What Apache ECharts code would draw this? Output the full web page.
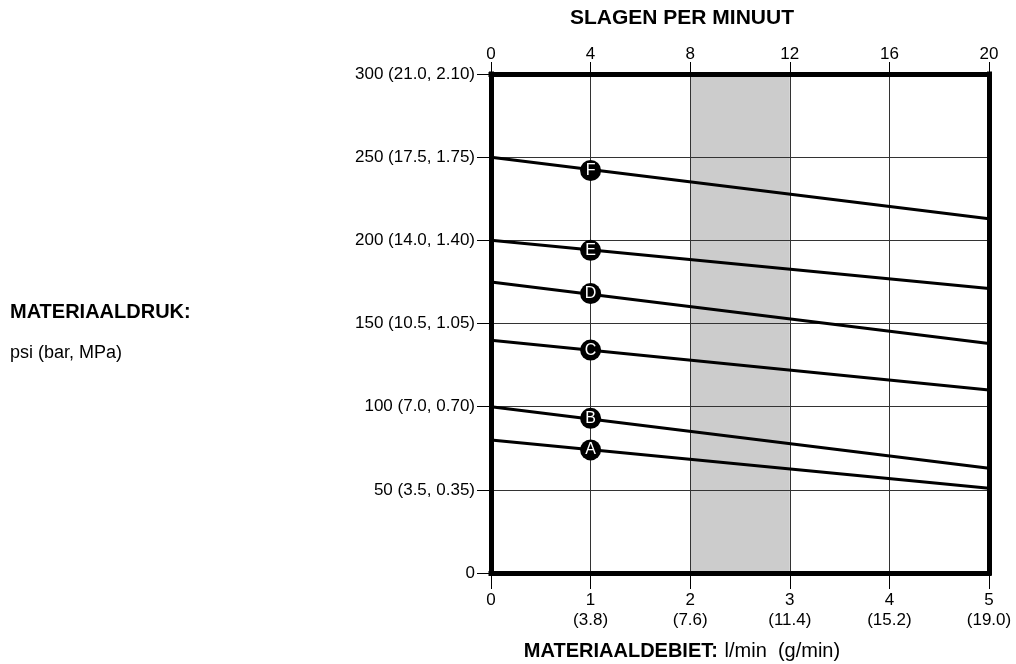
<!DOCTYPE html>
<html>
<head>
<meta charset="utf-8">
<script src="https://cdn.jsdelivr.net/npm/echarts@6/dist/echarts.min.js"></script>
<style>
html,body{margin:0;padding:0;background:#fff;}
#chart{width:1016px;height:664px;}
</style>
</head>
<body>
<div id="chart"></div>
<script>
// ---- data ----
const flowRange = [0, 5];                       // l/min at line ends
const curveNames = ['A', 'B', 'C', 'D', 'E', 'F'];
const startPsi = [80, 100, 140, 175, 200, 250];  // psi at 0 l/min
const endPsi = [51, 63, 110, 138, 171, 213];     // psi at 5 l/min
const markerFlow = 1;                            // l/min where letters sit
const markerPsi = [74, 93, 134, 168, 194, 242];
const bandFlow = [2, 3];                         // shaded range
const yTickLabels = ['0', '50 (3.5, 0.35)', '100 (7.0, 0.70)', '150 (10.5, 1.05)', '200 (14.0, 1.40)', '250 (17.5, 1.75)', '300 (21.0, 2.10)'];
const xTickLabels = ['0', '1\n(3.8)', '2\n(7.6)', '3\n(11.4)', '4\n(15.2)', '5\n(19.0)'];
const topTickLabels = ['0', '4', '8', '12', '16', '20'];

const FONT = "'Liberation Sans', Arial, Helvetica, sans-serif";
const chart = echarts.init(document.getElementById('chart'), null, {renderer: 'canvas'});

const frameLine = {show: true, onZero: false, lineStyle: {color: '#000', width: 5, cap: 'square'}};
const series = [];
// shaded band
series.push({
  type: 'line', data: [], z: 1, xAxisIndex: 0, yAxisIndex: 0,
  markArea: {silent: true, itemStyle: {color: '#cccccc', opacity: 1},
    data: [[{xAxis: bandFlow[0]}, {xAxis: bandFlow[1]}]]}
});
curveNames.forEach((n, i) => {
  series.push({
    type: 'line', name: n, z: 3, symbol: 'none', silent: true,
    lineStyle: {color: '#000', width: 3},
    data: [[flowRange[0], startPsi[i]], [flowRange[1], endPsi[i]]]
  });
});
series.push({
  type: 'scatter', z: 4, symbol: 'circle', symbolSize: 21, silent: true,
  itemStyle: {color: '#000', opacity: 1},
  label: {show: true, position: 'inside', color: '#fff', fontFamily: FONT, fontSize: 16, formatter: p => p.name},
  data: curveNames.map((n, i) => ({name: n, value: [markerFlow, markerPsi[i]]}))
});

chart.setOption({
  animation: false,
  grid: {left: 491, right: 27, top: 74, bottom: 91, containLabel: false},
  xAxis: [
    {type: 'value', position: 'bottom', min: 0, max: 5, interval: 1, z: 2,
      axisLine: frameLine,
      axisTick: {show: true, length: 16, lineStyle: {color: '#000', width: 1}},
      axisLabel: {margin: 17, color: '#000', fontFamily: FONT, fontSize: 17, lineHeight: 20,
        formatter: (v) => xTickLabels[Math.round(v)]},
      splitLine: {show: true, lineStyle: {color: '#333', width: 1}}},
    {type: 'value', position: 'top', min: 0, max: 20, interval: 4, z: 2,
      axisLine: frameLine,
      axisTick: {show: true, length: 12, lineStyle: {color: '#000', width: 1}},
      axisLabel: {margin: 11, color: '#000', fontFamily: FONT, fontSize: 17,
        formatter: (v) => topTickLabels[Math.round(v / 4)]},
      splitLine: {show: false}}
  ],
  yAxis: [
    {type: 'value', position: 'left', min: 0, max: 300, interval: 50, z: 2,
      axisLine: frameLine,
      axisTick: {show: true, length: 14, lineStyle: {color: '#000', width: 1}},
      axisLabel: {margin: 16, color: '#000', fontFamily: FONT, fontSize: 17,
        formatter: (v) => yTickLabels[Math.round(v / 50)]},
      splitLine: {show: true, lineStyle: {color: '#333', width: 1}}},
    {type: 'value', position: 'right', min: 0, max: 300, interval: 50, z: 2,
      axisLine: frameLine, axisTick: {show: false}, axisLabel: {show: false}, splitLine: {show: false}}
  ],
  graphic: [
    {type: 'text', style: {text: 'SLAGEN PER MINUUT', x: 682, y: 18, textAlign: 'center', textVerticalAlign: 'middle',
      font: "bold 21px " + FONT, fill: '#000'}},
    {type: 'text', style: {text: '{b|MATERIAALDEBIET:}  {r|l/min  (g/min)}', x: 682, y: 651, textAlign: 'center', textVerticalAlign: 'middle',
      rich: {b: {fontWeight: 'bold', fontSize: 20, fontFamily: FONT, fill: '#000'}, r: {fontSize: 20, fontFamily: FONT, fill: '#000'}}}},
    {type: 'text', style: {text: 'MATERIAALDRUK:', x: 10, y: 312, textAlign: 'left', textVerticalAlign: 'middle',
      font: "bold 20px " + FONT, fill: '#000'}},
    {type: 'text', style: {text: 'psi (bar, MPa)', x: 10, y: 353, textAlign: 'left', textVerticalAlign: 'middle',
      font: "18px " + FONT, fill: '#000'}}
  ],
  series: series
});
</script>
</body>
</html>
